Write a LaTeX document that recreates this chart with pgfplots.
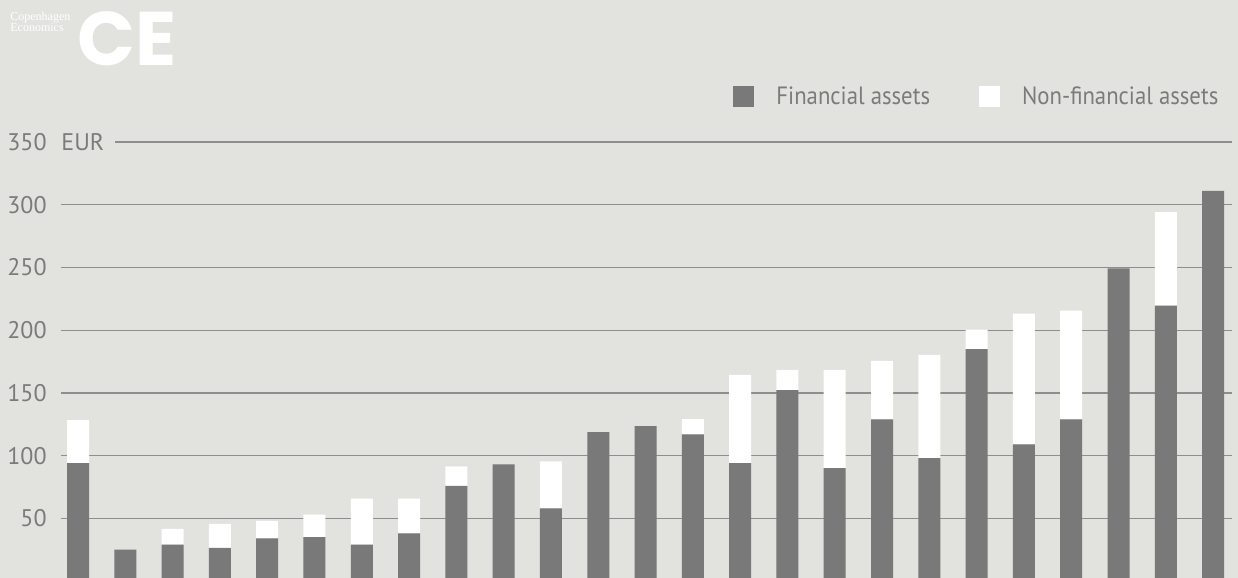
\documentclass[border=0pt]{standalone}
\usepackage{pgfplots}
\pgfplotsset{compat=1.18}
\usepackage{pgfplotstable}
\usepackage{fontspec}
\setmainfont{PT Sans}
\newfontfamily\narrowfont{PT Sans}[FakeStretch=0.91]
\newfontfamily\logofont{Poppins}
\newfontfamily\logoserif{Liberation Serif}

\definecolor{bg}{HTML}{E2E2DE}
\definecolor{bardark}{HTML}{787978}
\definecolor{txt}{HTML}{7B7B7B}
\definecolor{gridc}{HTML}{8E8E8E}

% financial / non-financial assets per bar, EUR
\pgfplotstableread{
x  fin    nonfin
0  94     34.3
1  25     0
2  29     12.7
3  26.5   19.2
4  34     14.1
5  35     18
6  29     36.8
7  38     27.8
8  76     15.4
9  93     0
10 58     37.4
11 118.7  0
12 123.5  0
13 117    12.1
14 94     70.3
15 152.3  16
16 90     78.3
17 129    46.6
18 98     82.4
19 185    15.4
20 109    104.2
21 129    86.6
22 249.3  0
23 219.6  74.6
24 311.1  0
}\assets

\begin{document}
\begin{tikzpicture}
\useasboundingbox (0,0) rectangle (619pt,289pt);
\fill[bg] (0,0) rectangle (619pt,289pt);
\clip (0,0) rectangle (619pt,289pt);

% logo
\node[inner sep=0pt, text=white, font=\logofont\bfseries\fontsize{38}{38}\selectfont]
  at (63.75pt,269.75pt) {CE};
\node[anchor=north west, inner sep=0pt, align=left, text=white,
  font=\logoserif\fontsize{6}{5.5}\selectfont] at (5pt,283pt) {Copenhagen\\Economics};

\begin{axis}[
  at={(30.5pt,-1.55pt)}, anchor=south west,
  scale only axis, width=585.5pt, height=219.55pt,
  xmin=-0.36, xmax=24.4, ymin=0, ymax=350,
  clip=false,
  ybar stacked, bar width=11pt,
  axis line style={draw=none},
  xtick=\empty,
  ytick={50,100,...,350},
  major tick length=0pt,
  ymajorgrids,
  grid style={gridc, line width=0.6pt},
  /pgf/number format/assume math mode=true,
  yticklabel style={text=txt, font=\fontsize{12}{12}\selectfont, inner xsep=0pt, xshift=-7pt},
  legend columns=2,
  legend cell align=left,
  legend style={at={(0.5739,1.1025)}, anchor=west, draw=none, fill=none,
    inner sep=0pt, text=txt, font=\narrowfont\fontsize{12.5}{12.5}\selectfont,
    nodes={inner sep=0pt},
    /tikz/every odd column/.append style={column sep=11pt},
    /tikz/every even column/.append style={column sep=24.5pt}},
]
\addplot[fill=bardark, draw=none,
  legend image code/.code={\fill[bardark] (0pt,-5.25pt) rectangle (10.5pt,5.25pt);}]
  table[x=x, y=fin] {\assets};
\addplot[fill=white, draw=none,
  legend image code/.code={\fill[white] (0pt,-5.25pt) rectangle (10.5pt,5.25pt);}]
  table[x=x, y=nonfin] {\assets};
\legend{Financial assets, Non-financial assets}
\node[anchor=west, fill=bg, inner xsep=0pt, inner ysep=2pt, text width=27pt, align=left,
  text=txt, font=\fontsize{12}{12}\selectfont] at (axis description cs:0,1) {EUR};
\end{axis}
\end{tikzpicture}
\end{document}
